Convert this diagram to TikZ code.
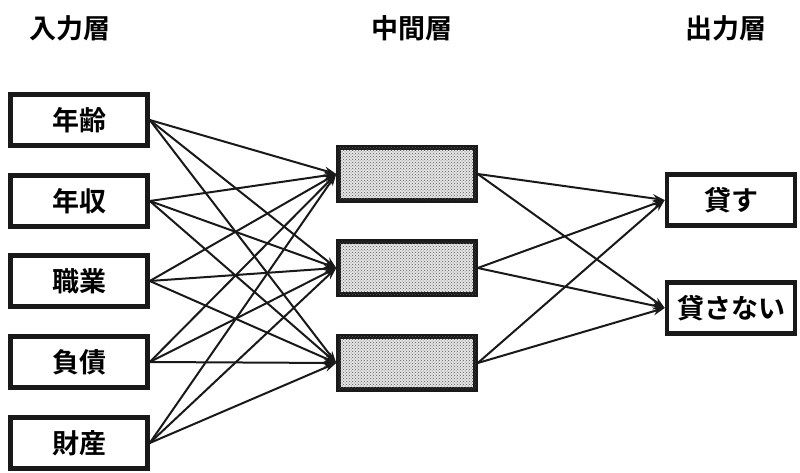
\documentclass[tikz,border=0pt]{standalone}
\usepackage{fontspec}
\newfontfamily\jp{Noto Sans CJK JP}[BoldFont={Noto Sans CJK JP Bold}]
\usetikzlibrary{arrows.meta,patterns}
\begin{document}
\begin{tikzpicture}[x=1pt,y=-1pt,
  box/.style={draw=black!90, line width=4.5pt, fill=white, inner sep=0pt,
    font=\jp\bfseries\fontsize{27}{27}\selectfont},
  inbox/.style={box, minimum width=137pt, minimum height=51pt},
  outbox/.style={box, minimum width=128pt, minimum height=51pt},
  hidbox/.style={draw=black!90, line width=4.5pt, fill=black!10,
    minimum width=137pt, minimum height=53pt,
    postaction={pattern=crosshatch dots, pattern color=black!65}},
  title/.style={font=\jp\bfseries\fontsize{27}{27}\selectfont},
  link/.style={line width=2pt, draw=black!90,
    -{Stealth[length=12pt,width=8pt]}}
]
\useasboundingbox (0,0) rectangle (800,473);

% layer headings
\node[title] (t1) at (70,28) {入力層};
\node[title] (t2) at (412,28) {中間層};
\node[title] (t3) at (726,28) {出力層};

% input layer
\node[inbox] (i1) at (79,120) {年齢};
\node[inbox] (i2) at (79,201) {年収};
\node[inbox] (i3) at (79,281) {職業};
\node[inbox] (i4) at (79,362) {負債};
\node[inbox] (i5) at (79,443) {財産};

% hidden layer
\node[hidbox] (h1) at (407,174) {};
\node[hidbox] (h2) at (407,268) {};
\node[hidbox] (h3) at (407,363) {};

% output layer
\node[outbox] (o1) at (731,200) {貸す};
\node[outbox] (o2) at (731,308) {貸さない};

% connections: every input to every hidden unit
\foreach \i in {1,...,5}{
  \foreach \h in {1,2,3}{
    \draw[link] (i\i.east) -- (h\h.west);
  }
}
% every hidden unit to every output
\foreach \h in {1,2,3}{
  \foreach \o in {1,2}{
    \draw[link] (h\h.east) -- (o\o.west);
  }
}
\end{tikzpicture}
\end{document}
